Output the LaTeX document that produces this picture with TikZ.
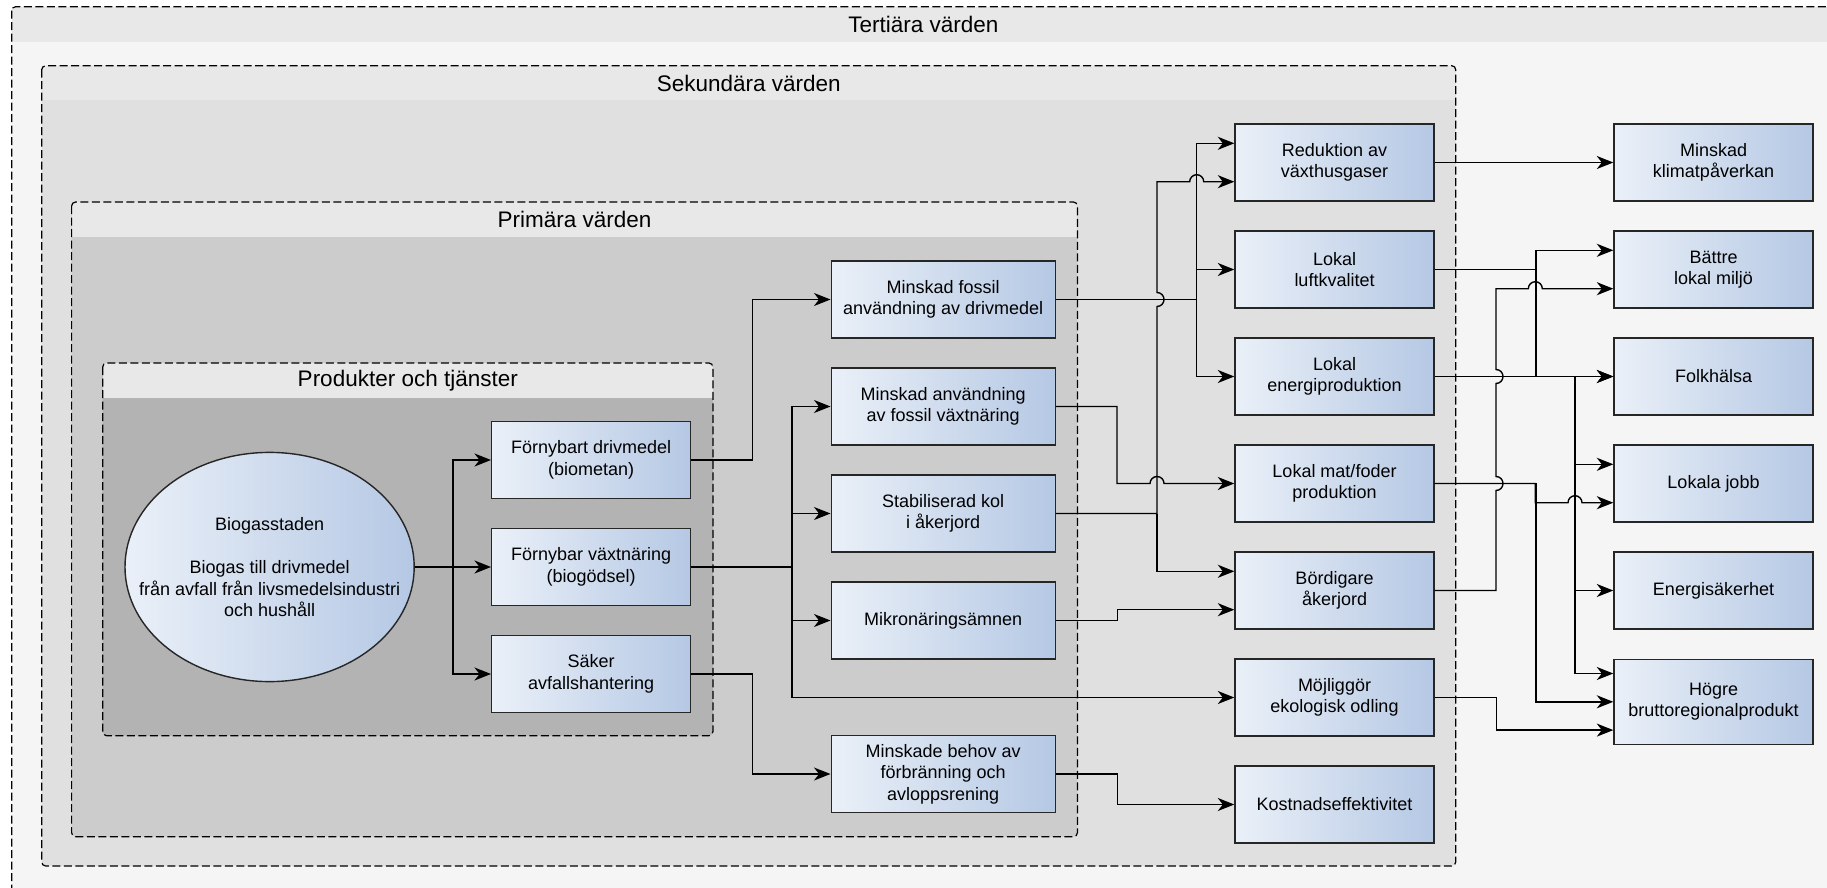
\documentclass[tikz,border=0pt]{standalone}
\usepackage{fontspec}
\setmainfont{Liberation Sans}
\usetikzlibrary{arrows.meta, shapes.geometric}

\definecolor{rubrikgra}{HTML}{E8E8E8}
\definecolor{tertiargra}{HTML}{F5F5F5}
\definecolor{sekundargra}{HTML}{E0E0E0}
\definecolor{primargra}{HTML}{CCCCCC}
\definecolor{produktgra}{HTML}{B3B3B3}
\definecolor{boxljus}{HTML}{EAF0F8}
\definecolor{boxmork}{HTML}{B5C8E4}
\definecolor{kantfarg}{HTML}{262626}

\begin{document}
\begin{tikzpicture}[x=1pt, y=-1pt]
    % ==========================
    % Inställningar
    % ==========================
    \def\hopp{7}     % radie för linjehopp
    \def\skift{19.2} % två pilar in i samma ruta
    \tikzset{
        ruta/.style={draw=kantfarg, line width=1.4pt, left color=boxljus, right color=boxmork,
            minimum width=199pt, minimum height=76.7pt, inner sep=2pt, align=center,
            font=\fontsize{18}{21.6}\selectfont}, % rutorna
        pil/.style={draw=black, line width=1.4pt, -{Stealth[length=16.5pt, width=13pt, inset=5pt]}}, % pilarna
        ram/.style={draw=black, line width=1.2pt, dash pattern=on 8pt off 3.5pt, rounded corners=4pt}, % streckade ramar
        rubrik/.style={inner sep=0pt, font=\fontsize{22.5}{27}\selectfont} % rubriker
    }
    \useasboundingbox (0,0) rectangle (1827,888);

    % ==========================
    % 1. Tertiära värden
    % ==========================
    \fill[tertiargra, rounded corners=4pt] (11.7,6.7) rectangle (1835,895);
    \begin{scope}
        \clip[rounded corners=4pt] (11.7,6.7) rectangle (1835,895);
        \fill[rubrikgra] (11.7,6.7) rectangle (1835,41.7);
    \end{scope}
    \draw[ram] (11.7,6.7) rectangle (1835,895);
    \node[rubrik] (tertiar) at (923.4,24.2) {Tertiära värden};

    % ==========================
    % 2. Sekundära värden
    % ==========================
    \fill[sekundargra, rounded corners=4pt] (41.7,65.7) rectangle (1455.7,866);
    \begin{scope}
        \clip[rounded corners=4pt] (41.7,65.7) rectangle (1455.7,866);
        \fill[rubrikgra] (41.7,65.7) rectangle (1455.7,100.3);
    \end{scope}
    \draw[ram] (41.7,65.7) rectangle (1455.7,866);
    \node[rubrik] (sekundar) at (748.7,83) {Sekundära värden};

    % ==========================
    % 3. Primära värden
    % ==========================
    \fill[primargra, rounded corners=4pt] (71.6,202) rectangle (1077.4,836.7);
    \begin{scope}
        \clip[rounded corners=4pt] (71.6,202) rectangle (1077.4,836.7);
        \fill[rubrikgra] (71.6,202) rectangle (1077.4,237);
    \end{scope}
    \draw[ram] (71.6,202) rectangle (1077.4,836.7);
    \node[rubrik] (primar) at (574.5,219.5) {Primära värden};

    % ==========================
    % 4. Produkter och tjänster
    % ==========================
    \fill[produktgra, rounded corners=4pt] (102.7,363) rectangle (712.9,735.7);
    \begin{scope}
        \clip[rounded corners=4pt] (102.7,363) rectangle (712.9,735.7);
        \fill[rubrikgra] (102.7,363) rectangle (712.9,398);
    \end{scope}
    \draw[ram] (102.7,363) rectangle (712.9,735.7);
    \node[rubrik] (produkter) at (407.8,380.5) {Produkter och tjänster};

    % ==========================
    % Noder
    % ==========================
    % Biogasstaden
    \node[ellipse, draw=kantfarg, line width=1.4pt, left color=boxljus, right color=boxmork,
        minimum width=289.2pt, minimum height=229.2pt, inner sep=0pt] (bio) at (269.6,567) {};
    \node[align=center, font=\fontsize{18}{21.6}\selectfont] (biotext) at (bio.center)
        {Biogasstaden\\[22pt]Biogas till drivmedel\\från avfall från livsmedelsindustri\\och hushåll};

    % produkter
    \node[ruta] (fdm) at (591.2,460) {Förnybart drivmedel\\(biometan)};
    \node[ruta] (fvn) at (591.2,567) {Förnybar växtnäring\\(biogödsel)};
    \node[ruta] (saker) at (591.2,674) {Säker\\avfallshantering};

    % primära
    \node[ruta, minimum width=224pt] (fossil) at (943.2,299.5) {Minskad fossil\\användning av drivmedel};
    \node[ruta, minimum width=224pt] (fvaxt) at (943.2,406.5) {Minskad användning\\av fossil växtnäring};
    \node[ruta, minimum width=224pt] (kol) at (943.2,513.5) {Stabiliserad kol\\i åkerjord};
    \node[ruta, minimum width=224pt] (mikro) at (943.2,620.5) {Mikronäringsämnen};
    \node[ruta, minimum width=224pt] (behov) at (943.2,774) {Minskade behov av\\förbränning och\\avloppsrening};

    % sekundära
    \node[ruta] (red) at (1334.5,162.5) {Reduktion av\\växthusgaser};
    \node[ruta] (luft) at (1334.5,269.5) {Lokal\\luftkvalitet};
    \node[ruta] (energi) at (1334.5,376.5) {Lokal\\energiproduktion};
    \node[ruta] (mat) at (1334.5,483.5) {Lokal mat/foder\\produktion};
    \node[ruta] (bord) at (1334.5,590.5) {Bördigare\\åkerjord};
    \node[ruta] (eko) at (1334.5,697.5) {Möjliggör\\ekologisk odling};
    \node[ruta] (kost) at (1334.5,804.5) {Kostnadseffektivitet};

    % tertiära
    \node[ruta] (klimat) at (1713.5,162.5) {Minskad\\klimatpåverkan};
    \node[ruta] (miljo) at (1713.5,269.5) {Bättre\\lokal miljö};
    \node[ruta] (folk) at (1713.5,376.5) {Folkhälsa};
    \node[ruta] (jobb) at (1713.5,483.5) {Lokala jobb};
    \node[ruta] (esak) at (1713.5,590.5) {Energisäkerhet};
    \node[ruta, minimum height=85pt] (brp) at (1713.5,701.8) {Högre\\bruttoregionalprodukt};

    % ==========================
    % Pilar
    % ==========================
    \coordinate (k1) at (453,567);
    \coordinate (k2) at (792,567);
    \coordinate (k3) at (1196.7,299.5);
    \coordinate (k4) at (1157,513.5);
    \coordinate (k5) at (1575,376.5);

    % Biogasstaden -> produkter
    \draw[pil] (bio.east) -- (fvn.west);
    \draw[pil] (k1) |- (fdm.west);
    \draw[pil] (k1) |- (saker.west);

    % produkter -> primära
    \draw[pil] (fdm.east) -- ++(61.3,0) |- (fossil.west);
    \draw[pil] (fvn.east) -- (k2) |- (fvaxt.west);
    \draw[pil] (k2) |- (kol.west);
    \draw[pil] (k2) |- (mikro.west);
    \draw[pil] (k2) |- (eko.west);
    \draw[pil] (saker.east) -- ++(61.3,0) |- (behov.west);

    % primära -> sekundära
    \draw[pil] (fossil.east) -- (k3) |- ([yshift=\skift pt]red.west);
    \draw[pil] (k3) |- (luft.west);
    \draw[pil] (k3) |- (energi.west);
    \draw[pil] (kol.east) -- (k4) -- (1157,306.5) arc[start angle=90, end angle=-90, radius=\hopp]
        -- (1157,181.7) -- (1189.7,181.7) arc[start angle=180, end angle=360, radius=\hopp]
        -- ([yshift=-\skift pt]red.west);
    \draw[pil] (k4) |- ([yshift=\skift pt]bord.west);
    \draw[pil] (fvaxt.east) -- (1117,406.5) -- (1117,483.5) -- (1150,483.5)
        arc[start angle=180, end angle=360, radius=\hopp] -- (mat.west);
    \draw[pil] (mikro.east) -- ++(61.8,0) |- ([yshift=-\skift pt]bord.west);
    \draw[pil] (behov.east) -- ++(61.8,0) |- (kost.west);

    % sekundära -> tertiära
    \draw[pil] (red.east) -- (klimat.west);
    \draw[pil] (luft.east) -- ++(101.3,0) |- ([yshift=\skift pt]miljo.west);
    \draw[pil] (luft.east) -- ++(101.3,0) |- (folk.west);
    \draw[pil] (energi.east) -- (folk.west);
    \draw[pil] (k5) |- ([yshift=\skift pt]jobb.west);
    \draw[pil] (k5) |- (esak.west);
    \draw[pil] (k5) |- ([yshift=28.3pt]brp.west);
    \draw[pil] (bord.east) -- (1496,590.5) -- (1496,490.5) arc[start angle=90, end angle=-90, radius=\hopp]
        -- (1496,383.5) arc[start angle=90, end angle=-90, radius=\hopp]
        -- (1496,288.7) -- (1528.3,288.7) arc[start angle=180, end angle=360, radius=\hopp]
        -- ([yshift=-\skift pt]miljo.west);
    \draw[pil] (mat.east) -- (1535.3,483.5) -- (1535.3,502.7) -- (1568,502.7)
        arc[start angle=180, end angle=360, radius=\hopp] -- ([yshift=-\skift pt]jobb.west);
    \draw[pil] (mat.east) -- ++(101.3,0) |- (brp.west);
    \draw[pil] (eko.east) -- ++(62,0) |- ([yshift=-28.3pt]brp.west);

\end{tikzpicture}
\end{document}
